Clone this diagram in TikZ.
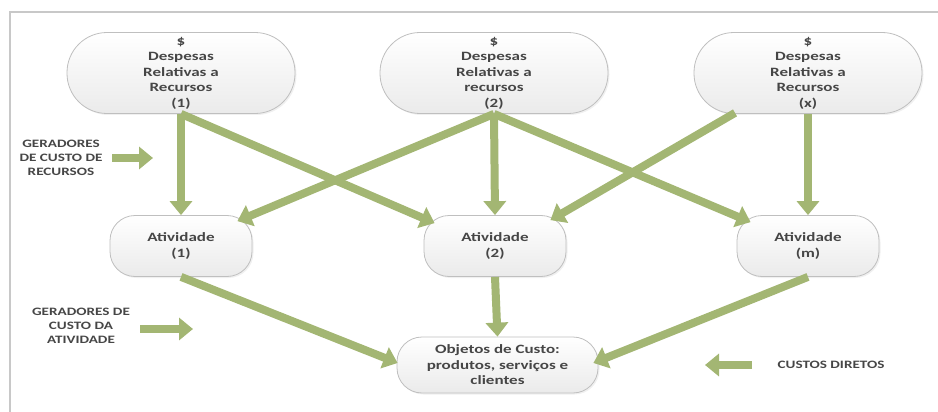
\documentclass[tikz,border=0pt]{standalone}
\usepackage{fontspec}
\setmainfont[FakeStretch=1.34]{Carlito}
\usetikzlibrary{arrows.meta,calc,shadows}
\definecolor{arrowgreen}{RGB}{163,182,115}
\definecolor{txt}{RGB}{70,70,70}
\definecolor{framegray}{RGB}{200,200,200}

\begin{document}
\begin{tikzpicture}[x=1pt,y=-1pt,
  box/.style={draw=gray!50, line width=0.8pt, top color=white, bottom color=gray!16,
    inner sep=0pt, align=center, text=txt, font=\fontsize{12.7}{15.5}\selectfont\bfseries,
    drop shadow={opacity=0.12, shadow xshift=1.5pt, shadow yshift=-1.5pt}},
  resbox/.style={box, minimum width=228pt, minimum height=81pt, rounded corners=40pt},
  actbox/.style={box, minimum width=142pt, minimum height=61pt, rounded corners=25pt},
  objbox/.style={box, minimum width=201pt, minimum height=56pt, rounded corners=25pt},
  flow/.style={draw=arrowgreen, line width=8pt, -{Triangle[width=22pt,length=14pt]}},
  legend/.style={align=center, text=txt, font=\fontsize{11.3}{14}\selectfont\bfseries}
]
\useasboundingbox (0,0) rectangle (938,412);

% open frame: top and left edges
\draw[framegray, line width=2pt] (938,12) -- (10,12) -- (10,412);

% resource expenses
\node[resbox] (r1) at (181,73) {\$\\Despesas\\Relativas a\\Recursos\\(1)};
\node[resbox] (r2) at (494,73) {\$\\Despesas\\Relativas a\\recursos\\(2)};
\node[resbox] (r3) at (808,73) {\$\\Despesas\\Relativas a\\Recursos\\(x)};

% activities
\node[actbox] (a1) at (181,246) {Atividade\\(1)};
\node[actbox] (a2) at (495,246) {Atividade\\(2)};
\node[actbox] (am) at (808,246) {Atividade\\(m)};

% cost objects
\node[objbox] (obj) at (497.5,365) {Objetos de Custo:\\produtos, serviços e\\clientes};

% resource cost drivers
\draw[flow] (r1.south) -- (a1.north);
\draw[flow] (r1.south) -- ($(a2.north west)+(11,8)$);
\draw[flow] (r2.south) -- ($(a1.north east)+(-15,6)$);
\draw[flow] (r2.south) -- (a2.north);
\draw[flow] (r2.south) -- ($(am.north west)+(14,7)$);
\draw[flow] ($(r3.south)+(-73,-1)$) -- ($(a2.north east)+(-16,5)$);
\draw[flow] (r3.south) -- (am.north);

% activity cost drivers
\draw[flow] (a1.south) -- ($(obj.west)+(1,-2)$);
\draw[flow] (a2.south) -- (obj.north);
\draw[flow] (am.south) -- ($(obj.east)+(-5,-2)$);

% legend
\node[legend] (lg1) at (61,158) {GERADORES\\DE CUSTO DE\\RECURSOS};
\coordinate (lg1s) at (112,158);
\coordinate (lg1e) at (153,158);
\draw[flow] (lg1s) -- (lg1e);

\node[legend] (lg2) at (81,326) {GERADORES DE\\CUSTO DA\\ATIVIDADE};
\coordinate (lg2s) at (140,329);
\coordinate (lg2e) at (193,329);
\draw[flow] (lg2s) -- (lg2e);

\node[legend] (lg3) at (831,365) {CUSTOS DIRETOS};
\coordinate (lg3s) at (752,365);
\coordinate (lg3e) at (705,365);
\draw[flow] (lg3s) -- (lg3e);
\end{tikzpicture}
\end{document}
